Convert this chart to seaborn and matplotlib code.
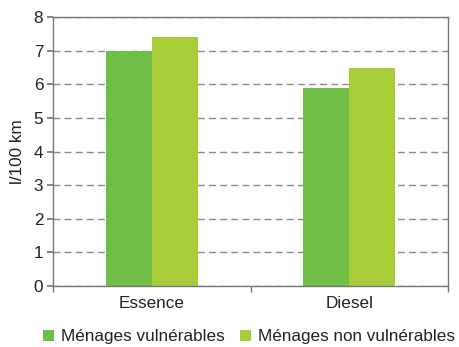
import matplotlib
matplotlib.use("Agg")
import matplotlib.pyplot as plt
import seaborn as sns
import pandas as pd

categories = ["Essence", "Diesel"]
series_names = ["Ménages vulnérables", "Ménages non vulnérables"]
vulnerables = [7.0, 5.88]
non_vulnerables = [7.40, 6.48]
colors = ["#6fbe45", "#a7cd39"]

df = pd.DataFrame({
    "carburant": categories * 2,
    "menage": [series_names[0]] * 2 + [series_names[1]] * 2,
    "conso": vulnerables + non_vulnerables,
})

sns.set_theme(style="white")
plt.rcParams["font.family"] = ["Liberation Sans", "DejaVu Sans"]

fs = 12.3
fig = plt.figure(figsize=(4.59, 3.47), dpi=100)
ax = fig.add_axes([53 / 459, 1 - 286 / 347, 395 / 459, 269 / 347])

sns.barplot(data=df, x="carburant", y="conso", hue="menage",
            palette=colors, width=0.466, gap=0, ax=ax,
            edgecolor="none", linewidth=0, saturation=1)

ax.set_ylim(0, 8)
ax.set_xlim(-0.5, 1.5)
ax.set_yticks(range(0, 9))
ax.yaxis.grid(True, linestyle=(0, (5, 3)), color="#8a8a8a", linewidth=1)
ax.set_axisbelow(True)
for s in ax.spines.values():
    s.set_color("#777777")
    s.set_linewidth(1)

ax.set_xticks([0, 1])
ax.set_xticklabels(categories)
ax.set_xticks([-0.5, 0.5, 1.5], minor=True)
ax.tick_params(axis="x", which="major", length=0, pad=7, labelsize=fs, colors="#222222")
ax.tick_params(axis="x", which="minor", length=4, color="#777777", direction="out", bottom=True)
ax.tick_params(axis="y", length=4, color="#777777", direction="out", left=True,
               labelsize=fs, labelcolor="#222222", pad=3)
ax.set_xlabel("")
ax.set_ylabel("l/100 km", fontsize=fs, color="#222222", labelpad=6)

ax.get_legend().remove()
fig.legend(*ax.get_legend_handles_labels(), loc="center",
           bbox_to_anchor=(249 / 459, 1 - 337 / 347), ncol=2, frameon=False,
           fontsize=fs, handlelength=0.65, handleheight=0.65, handletextpad=0.4,
           columnspacing=0.9, labelcolor="#222222", borderaxespad=0, borderpad=0)

fig.savefig("out.png", dpi=100)
